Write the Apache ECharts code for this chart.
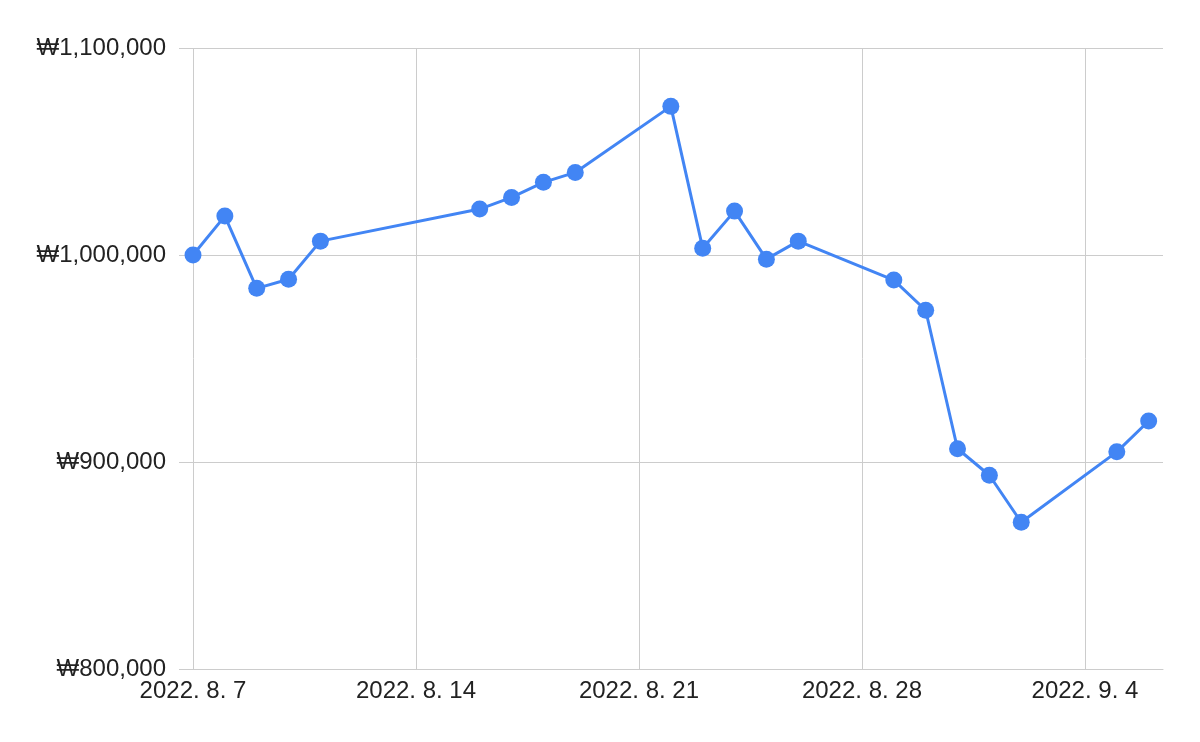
<!DOCTYPE html>
<html>
<head>
<meta charset="utf-8">
<script src="https://cdn.jsdelivr.net/npm/echarts@6/dist/echarts.min.js"></script>
<style>
html,body{margin:0;padding:0;background:#fff;}
#chart{width:1200px;height:742px;}
</style>
</head>
<body>
<div id="chart"></div>
<script>
const dates = ["2022-08-07","2022-08-08","2022-08-09","2022-08-10","2022-08-11",
  "2022-08-16","2022-08-17","2022-08-18","2022-08-19","2022-08-22","2022-08-23",
  "2022-08-24","2022-08-25","2022-08-26","2022-08-29","2022-08-30","2022-08-31",
  "2022-09-01","2022-09-02","2022-09-05","2022-09-06"];
const values = [1000000,1018800,983900,988300,1006700,
  1022200,1027800,1035100,1039900,1071800,1003300,
  1021200,998000,1006700,987900,973300,906400,
  893600,870900,904900,919800];
const yTicks = [800000, 900000, 1000000, 1100000];

function utc(s){ const p = s.split('-').map(Number); return Date.UTC(p[0], p[1]-1, p[2]); }
const DAY = 86400000;
const xMin = utc("2022-08-07");
const xMax = utc("2022-09-06") + 10.8*3600000;

const chart = echarts.init(document.getElementById('chart'));
chart.setOption({
  animation:false,
  backgroundColor:'#fff',
  grid:{left:193,right:37,top:48,bottom:73,containLabel:false},
  xAxis:{
    type:'value', min:xMin, max:xMax, interval:7*DAY,
    axisLine:{show:true,lineStyle:{color:'#cccccc',width:1}},
    axisTick:{show:false},
    splitLine:{show:true,showMaxLine:false,lineStyle:{color:'#cccccc',width:1}},
    axisLabel:{
      showMaxLabel:false, margin:10,
      color:'#222', fontFamily:'Liberation Sans, Arial, sans-serif', fontSize:24,
      formatter:function(v){ const d=new Date(v); return d.getUTCFullYear()+'. '+(d.getUTCMonth()+1)+'. '+d.getUTCDate(); }
    }
  },
  yAxis:{
    type:'value', min:yTicks[0], max:yTicks[yTicks.length-1], interval:100000,
    axisLine:{show:false},
    axisTick:{show:true,length:14,inside:false,lineStyle:{color:'#cccccc',width:1}},
    splitLine:{show:true,lineStyle:{color:'#cccccc',width:1}},
    axisLabel:{
      margin:27, color:'#222', fontFamily:'Liberation Sans, Arial, sans-serif', fontSize:24,
      formatter:function(v){ return '₩' + v.toLocaleString('en-US'); }
    }
  },
  series:[{
    type:'line',
    data: dates.map((d,i)=>[utc(d), values[i]]),
    clip:false,
    symbol:'circle', symbolSize:17,
    lineStyle:{color:'#4285F4',width:3},
    itemStyle:{color:'#4285F4'},
    emphasis:{disabled:true}
  }]
});
</script>
</body>
</html>
